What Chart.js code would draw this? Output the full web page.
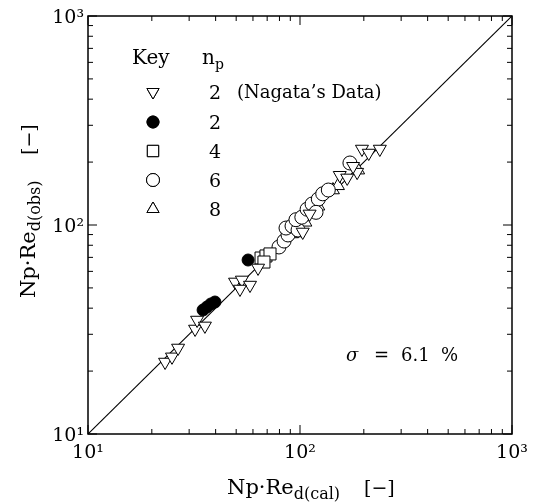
<!DOCTYPE html>
<html>
<head>
<meta charset="utf-8">
<script src="https://cdn.jsdelivr.net/npm/chart.js@4/dist/chart.umd.min.js"></script>
<style>
  html, body { margin: 0; padding: 0; background: #fff; }
  #wrap { width: 533px; height: 503px; }
</style>
</head>
<body>
<div id="wrap"><canvas id="chart"></canvas></div>
<script>
// Np*Re_d(cal) vs Np*Re_d(obs)
const nagataCal = [23.1, 24.9, 26.6, 32.0, 32.7, 35.6, 49.4, 53.2, 58.1, 52.1, 63.4, 103, 154, 167, 186, 196, 211, 238, 178, 111];
const nagataObs = [22.1, 23.4, 25.8, 31.8, 35.1, 32.9, 53.4, 54.6, 51.6, 49.4, 62.3, 92.6, 173, 168, 179, 231, 221, 231, 191, 113];
const np2Cal = [34.9, 36.4, 38.0, 39.7, 56.9];
const np2Obs = [39.2, 40.5, 41.9, 42.8, 68.0];
const np4Cal = [65.5, 69.1, 72.2, 67.6];
const np4Obs = [69.5, 71.1, 72.7, 66.5];
const np6Cal = [79.6, 84.1, 87.8, 85.9, 91.7, 97.9, 95.7, 102, 108, 114, 122, 128, 136, 172, 119];
const np6Obs = [78.5, 83.8, 89.6, 96.7, 98.9, 94.6, 106, 109, 119, 126, 133, 141, 147, 198, 115];
const np8Cal = [91.7, 97.9, 143, 151, 188, 122, 106];
const np8Obs = [90.6, 91.6, 147, 154, 183, 123, 103];
const parityLine = [10, 1000];
const majorTicks = [10, 100, 1000];
const tickLabels = ['10\u00B9', '10\u00B2', '10\u00B3'];
const sigmaText = '6.1';

const SERIF = '"DejaVu Serif", "Liberation Serif", serif';

function pts(xs, ys) {
  return xs.map((x, i) => ({ x: x, y: ys[i] }));
}

function markerSet(label, xs, ys, style, radius, rot, fill) {
  return {
    label: label,
    data: pts(xs, ys),
    pointStyle: style,
    pointRadius: radius,
    pointRotation: rot,
    pointBackgroundColor: fill,
    pointBorderColor: '#000',
    pointBorderWidth: 1,
    showLine: false,
    order: 1
  };
}

const datasets = [
  {
    label: 'y = x',
    data: pts(parityLine, parityLine),
    showLine: true,
    borderColor: '#000',
    borderWidth: 1.1,
    pointRadius: 0,
    order: 10
  },
  markerSet('2 (Nagata)', nagataCal, nagataObs, 'triangle', 7.5, 180, '#fff'),
  markerSet('2', np2Cal, np2Obs, 'circle', 6, 0, '#000'),
  markerSet('4', np4Cal, np4Obs, 'rect', 8.5, 0, '#fff'),
  markerSet('6', np6Cal, np6Obs, 'circle', 7, 0, '#fff'),
  markerSet('8', np8Cal, np8Obs, 'triangle', 7.5, 0, '#fff')
];

// legend rows: symbol, n_p, note
const keyRows = [
  { style: 'triangle', rot: 180, fill: '#fff', r: 7, np: '2', note: '(Nagata\u2019s Data)' },
  { style: 'circle', rot: 0, fill: '#000', r: 6, np: '2', note: '' },
  { style: 'rect', rot: 0, fill: '#fff', r: 8, np: '4', note: '' },
  { style: 'circle', rot: 0, fill: '#fff', r: 6.5, np: '6', note: '' },
  { style: 'triangle', rot: 0, fill: '#fff', r: 7, np: '8', note: '' }
];

function logTicks() {
  const out = [];
  for (let d = 10; d < 1000; d *= 10) {
    for (let k = 1; k < 10; k++) out.push({ v: k * d, major: k === 1 });
  }
  out.push({ v: 1000, major: true });
  return out;
}

function drawParts(ctx, parts, x, y) {
  // parts: [text, font, dy]
  parts.forEach(p => {
    ctx.font = p[1];
    ctx.fillText(p[0], x, y + p[2]);
    x += ctx.measureText(p[0]).width;
  });
}

const framePlugin = {
  id: 'frame',
  afterDatasetsDraw(chart) {
    const ctx = chart.ctx;
    const a = chart.chartArea;
    const xs = chart.scales.x, ys = chart.scales.y;
    ctx.save();
    ctx.strokeStyle = '#000';
    ctx.lineWidth = 1.5;
    ctx.strokeRect(a.left, a.top, a.right - a.left, a.bottom - a.top);

    // inward ticks on all four sides
    ctx.lineWidth = 1;
    ctx.beginPath();
    logTicks().forEach(t => {
      const len = t.major ? 9 : 5;
      const px = xs.getPixelForValue(t.v);
      ctx.moveTo(px, a.bottom); ctx.lineTo(px, a.bottom - len);
      ctx.moveTo(px, a.top); ctx.lineTo(px, a.top + len);
      const py = ys.getPixelForValue(t.v);
      ctx.moveTo(a.left, py); ctx.lineTo(a.left + len, py);
      ctx.moveTo(a.right, py); ctx.lineTo(a.right - len, py);
    });
    ctx.stroke();

    ctx.fillStyle = '#000';
    ctx.textBaseline = 'alphabetic';
    ctx.textAlign = 'left';

    // key
    ctx.font = '20px ' + SERIF;
    ctx.fillText('Key', 132, 64);
    drawParts(ctx, [['n', '20px ' + SERIF, 0], ['p', '14px ' + SERIF, 5]], 202, 64);
    const rowY = [92, 122, 151, 180, 209];
    keyRows.forEach((r, i) => {
      Chart.helpers.drawPoint(ctx, {
        pointStyle: r.style, radius: r.r, rotation: r.rot, borderWidth: 1
      }, 153, rowY[i]);
      ctx.fillStyle = r.fill;
      ctx.strokeStyle = '#000';
      ctx.fill();
      ctx.stroke();
      ctx.fillStyle = '#000';
      ctx.font = '19px ' + SERIF;
      ctx.fillText(r.np, 209, rowY[i] + 7);
      if (r.note) {
        ctx.font = '18px ' + SERIF;
        ctx.fillText(r.note, 237, rowY[i] + 6);
      }
    });

    // sigma
    ctx.font = 'italic 18px ' + SERIF;
    ctx.fillText('\u03C3', 346, 361);
    ctx.font = '18px ' + SERIF;
    ctx.fillText('=', 374, 361);
    ctx.fillText(sigmaText, 401, 361);
    ctx.fillText('%', 441, 361);

    // x title
    drawParts(ctx, [
      ['Np\u00B7Re', '21px ' + SERIF, 0],
      ['d(cal)', '16px ' + SERIF, 5]
    ], 227, 494);
    ctx.font = '19px ' + SERIF;
    ctx.fillText('[\u2212]', 364, 494);

    // y title
    ctx.translate(35, 298);
    ctx.rotate(-Math.PI / 2);
    drawParts(ctx, [
      ['Np\u00B7Re', '21px ' + SERIF, 0],
      ['d(obs)', '16px ' + SERIF, 5]
    ], 0, 0);
    ctx.font = '19px ' + SERIF;
    ctx.fillText('[\u2212]', 143, 0);
    ctx.restore();
  }
};

function axis(pos, fit, offset, lh) {
  return {
    type: 'logarithmic',
    position: pos,
    min: 10,
    max: 1000,
    grid: { display: false, drawTicks: false },
    border: { display: false },
    afterBuildTicks: s => { s.ticks = majorTicks.map(v => ({ value: v })); },
    afterFit: fit,
    ticks: {
      autoSkip: false,
      maxRotation: 0,
      padding: 4,
      labelOffset: offset,
      color: '#000',
      font: { family: SERIF, size: 19, lineHeight: lh },
      callback: v => tickLabels[majorTicks.indexOf(v)] || ''
    }
  };
}

new Chart(document.getElementById('chart'), {
  type: 'scatter',
  data: { datasets: datasets },
  options: {
    responsive: true,
    maintainAspectRatio: false,
    animation: false,
    layout: { padding: { left: 0, right: 21, top: 16, bottom: 0 } },
    plugins: { legend: { display: false }, tooltip: { enabled: false } },
    scales: {
      x: axis('bottom', s => { s.height = 69; }, 0, 1.6),
      y: axis('left', s => { s.width = 88; }, 2, 1.2)
    }
  },
  plugins: [framePlugin]
});
</script>
</body>
</html>
